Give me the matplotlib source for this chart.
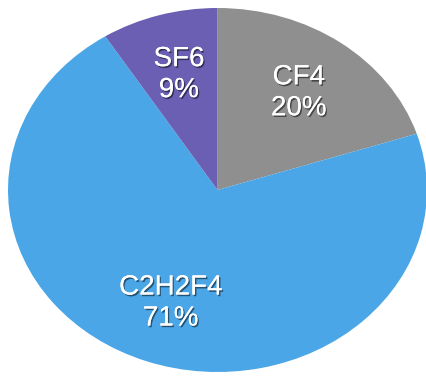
import matplotlib
matplotlib.use("Agg")
import matplotlib.pyplot as plt
import matplotlib.patheffects as pe

# gas share data
gases = ["CF4", "C2H2F4", "SF6"]
shares = [20, 71, 9]
colors = ["#8f8f8f", "#4aa6e6", "#6a5fb2"]

plt.rcParams['font.family'] = ['Liberation Sans', 'DejaVu Sans']

fig = plt.figure(figsize=(4.27, 3.77), dpi=100)
ax = fig.add_axes([8 / 427, 5 / 377, 419 / 427, 364 / 377])

labels = iter(gases)
wedges, texts, autotexts = ax.pie(
    shares, colors=colors, startangle=90, counterclock=False,
    autopct=lambda p: "{}\n{:.0f}%".format(next(labels), p),
    pctdistance=0.66, wedgeprops={'linewidth': 0},
    textprops={'color': 'white', 'fontsize': 20, 'linespacing': 1.25})

shadow = [pe.withSimplePatchShadow(offset=(1, -1.2), shadow_rgbFace='black', alpha=0.5), pe.Normal()]
for t in autotexts:
    t.set_path_effects(shadow)

# stretch the pie to fill the box
ax.set_aspect('auto')
ax.set_xlim(-1, 1)
ax.set_ylim(-1, 1)
ax.axis('off')

fig.savefig("out.png", dpi=100)
